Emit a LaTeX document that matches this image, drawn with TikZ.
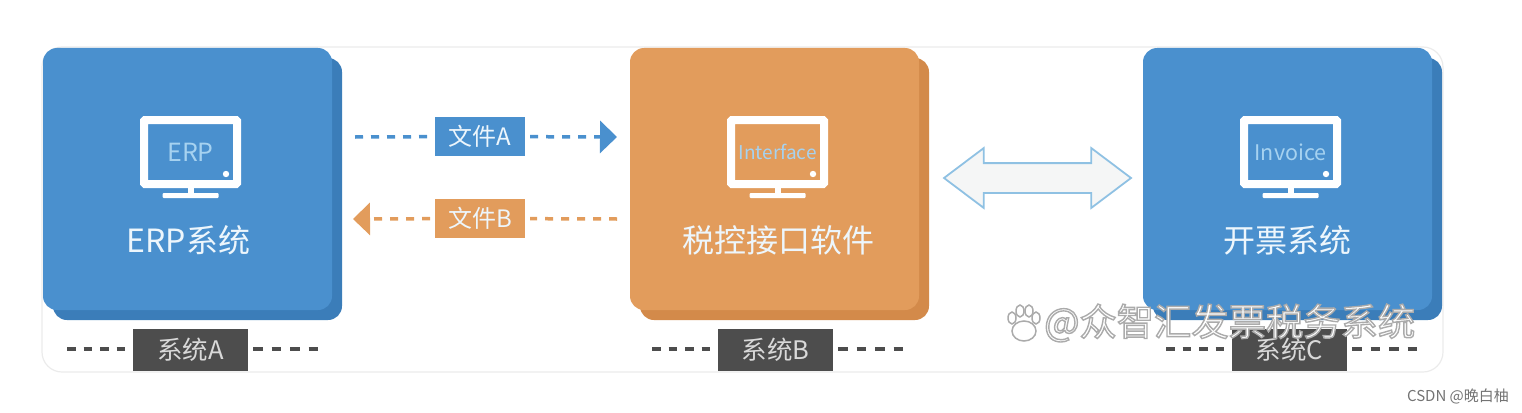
\documentclass[tikz,border=0pt]{standalone}
\usepackage{fontspec}
\setmainfont{Noto Sans CJK SC}
\usetikzlibrary{
  arrows.meta,
  shapes.arrows
}
\definecolor{sysblue}{HTML}{4A90CE}
\definecolor{sysblueback}{HTML}{3B7DB9}
\definecolor{sysorange}{HTML}{E29C5C}
\definecolor{sysorangeback}{HTML}{D38A4A}
\definecolor{tagdark}{HTML}{4D4D4D}
\definecolor{screentext}{HTML}{A6D2F0}
\definecolor{titletext}{HTML}{EDF6FC}
\definecolor{framegray}{HTML}{EBEBEB}
\definecolor{linkblue}{HTML}{8FC1E3}
\definecolor{linkfill}{HTML}{F5F6F6}
\definecolor{markgray}{HTML}{ABABAB}
\tikzset{
  block/.style={
    rounded corners=14pt,
    minimum width=289pt,
    minimum height=262pt,
    inner sep=0pt
  },
  screen/.style={
    draw=white,
    line width=8pt,
    rounded corners=1pt,
    minimum width=93pt,
    minimum height=64pt,
    inner sep=0pt,
    text=screentext,
    font=\fontsize{#1}{#1}\selectfont
  },
  system title/.style={
    text=titletext,
    inner sep=0pt,
    font=\fontsize{32}{32}\selectfont
  },
  file tag/.style={
    text=titletext,
    minimum width=90pt,
    minimum height=39pt,
    inner sep=0pt,
    outer sep=5pt,
    font=\fontsize{24}{24}\selectfont
  },
  system tag/.style={
    fill=tagdark,
    text=white!85!black,
    minimum width=115pt,
    minimum height=42pt,
    inner sep=0pt,
    outer sep=5pt,
    font=\fontsize{25.5}{25.5}\selectfont
  },
  file link/.style={
    draw=#1,
    line width=3.5pt,
    dash pattern=on 8pt off 8pt
  },
  file arrow/.style={
    file link=#1,
    -{Triangle[length=17pt,width=32pt,#1]}
  },
  tag link left/.style={
    draw=tagdark,
    line width=3.5pt,
    dash pattern=on 8.5pt off 8pt
  },
  tag link right/.style={
    draw=tagdark,
    line width=3.5pt,
    dash pattern=on 9.5pt off 9pt
  },
  paw/.style={
    draw=markgray,
    fill=white,
    line width=1.5pt
  }
}
\begin{document}
\begin{tikzpicture}[x=1pt,y=-1pt]

    \useasboundingbox (0,0) rectangle (1522,412);

    % ---------- outer frame ----------
    \node[
      draw=framegray,
      line width=1.2pt,
      rounded corners=20pt,
      minimum width=1401pt,
      minimum height=325pt
    ] (frame) at (742.5,209.5) {};

    % ---------- three systems ----------
    \foreach \id/\cx/\col/\fs/\word/\title/\tx/\tagtext/\gx in {
      A/187.5/sysblue/25/ERP/ERP系统/188.5/系统A/190.5,
      B/774.5/sysorange/19/Interface/税控接口软件/778.5/系统B/775.5,
      C/1287.5/sysblue/21.5/Invoice/开票系统/1287.5/系统C/1289.5
    }{
      \node[block,fill=\col back] (back\id) at (\cx+10,189) {};
      \node[block,fill=\col] (front\id) at (\cx,179) {};

      % monitor
      \node[screen=\fs] (screen\id) at (\cx+3,152) {\word};
      \fill[white] (\cx,188) rectangle (\cx+6,194);
      \fill[white,rounded corners=1pt] (\cx-25,193) rectangle (\cx+31,198);
      \fill[white] (\cx+38.5,174) circle (3.2);

      \node[system title] (title\id) at (\tx,240) {\title};

      % tag under the block
      \node[system tag] (tag\id) at (\gx,350) {\tagtext};
      \coordinate (tagl\id) at (\gx-123.5,349);
      \coordinate (tagr\id) at (\gx+128,349);
      \draw[tag link left] (tagl\id) -- (tag\id.west |- tagl\id);
      \draw[tag link right] (tag\id.east |- tagr\id) -- (tagr\id);
    }

    % ---------- files between A and B ----------
    \node[file tag,fill=sysblue] (fileA) at (480,136.5) {文件A};
    \node[file tag,fill=sysorange] (fileB) at (480,218.5) {文件B};

    \coordinate (fileAstart) at (355,137);
    \coordinate (fileAend) at (617,137);
    \coordinate (fileBstart) at (617,219);
    \coordinate (fileBend) at (353,219);

    \draw[file link=sysblue] (fileAstart) -- (fileA);
    \draw[file arrow=sysblue] (fileA) -- (fileAend);
    \draw[file link=sysorange] (fileBstart) -- (fileB);
    \draw[file arrow=sysorange] (fileB) -- (fileBend);

    % ---------- link between B and C ----------
    \node[
      double arrow,
      double arrow head extend=15pt,
      double arrow head indent=0pt,
      double arrow tip angle=74,
      draw=linkblue,
      fill=linkfill,
      line width=1.8pt,
      inner sep=0pt,
      minimum width=58pt,
      minimum height=187pt
    ] (linkBC) at (1037.5,178) {\rule{0pt}{28pt}};

    % ---------- watermark ----------
    \foreach \px/\py/\rx/\ry in {
      1012/318/4/6,
      1020/311/4/6,
      1029/311/4/6,
      1036/318/4/6,
      1024/331/12/10
    }{
      \draw[paw] (\px,\py) ellipse (\rx pt and \ry pt);
    }
    \node[
      inner sep=0pt,
      anchor=west,
      font=\fontsize{37.3}{37.3}\selectfont
    ] (watermark) at (1044,323) {%
      \special{pdf:code q 2 Tr 1.4 w 0.67 G}%
      \textcolor{white}{\special{pdf:code 2 Tr 1.4 w 0.67 G}@众智汇发票税务系统}%
      \special{pdf:code Q}};

    % ---------- source line ----------
    \node[
      text=black!55,
      inner sep=0pt,
      font=\fontsize{15}{15}\selectfont
    ] (source) at (1458,396) {CSDN @晚白柚};

\end{tikzpicture}
\end{document}
